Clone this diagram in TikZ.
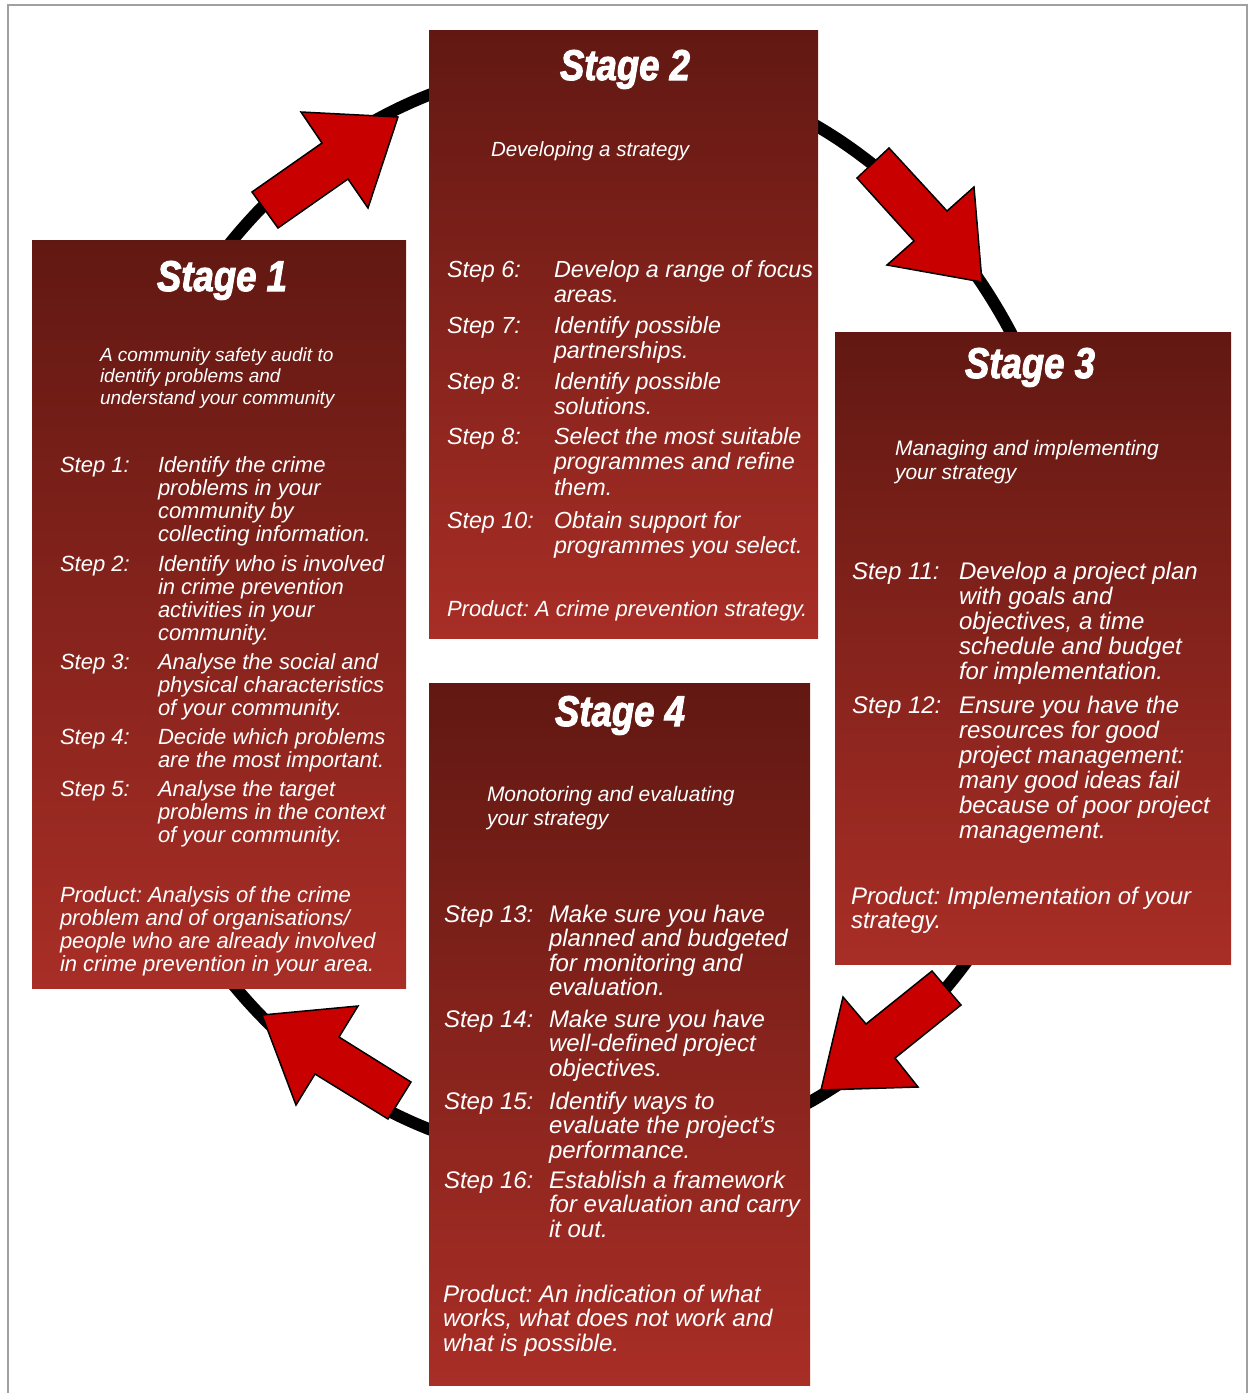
\documentclass[tikz,border=0pt]{standalone}
\usepackage{fontspec}
\setmainfont{Liberation Sans}
\newfontfamily\titlefont{Liberation Sans Bold Italic}[FakeBold=2.5]
\definecolor{boxtop}{RGB}{98,24,18}
\definecolor{boxbot}{RGB}{168,46,38}
\definecolor{arrowred}{RGB}{200,0,0}
\definecolor{framegray}{RGB}{160,160,160}
\newcommand\mystrut{\rule{0pt}{0.8em}}
\frenchspacing
\tikzset{
  stagebox/.style={top color=boxtop, bottom color=boxbot, draw=none},
  ring/.style={draw=black, line width=12pt},
  blockarrow/.style={fill=arrowred, draw=black, line width=1.5pt, line join=miter},
  frameline/.style={draw=framegray, line width=2pt},
  ttl/.style={anchor=base, inner sep=0pt, text=white, font=\titlefont\fontsize{43}{43}\selectfont},
  txt/.style={anchor=north west, inner sep=0pt, outer sep=0pt, align=left, text=white},
  subA/.style={txt, font=\fontsize{19}{21.5}\selectfont\itshape, yshift=15.2pt},
  subB/.style={txt, font=\fontsize{20.5}{24}\selectfont\itshape, yshift=16.4pt},
  subC/.style={txt, font=\fontsize{21}{24}\selectfont\itshape, yshift=16.8pt},
  stA/.style={txt, font=\fontsize{22}{23}\selectfont\itshape, yshift=17.6pt},
  stB/.style={txt, font=\fontsize{23.3}{25.5}\selectfont\itshape, yshift=18.6pt},
  stC/.style={txt, font=\fontsize{24}{25}\selectfont\itshape, yshift=19.2pt},
  stD/.style={txt, font=\fontsize{24}{24.5}\selectfont\itshape, yshift=19.2pt},
  prA/.style={txt, font=\fontsize{22}{23.3}\selectfont\itshape, yshift=17.6pt},
  prC/.style={txt, font=\fontsize{24}{24.5}\selectfont\itshape, yshift=19.2pt},
}
\begin{document}
\begin{tikzpicture}[x=1pt,y=-1pt]
\useasboundingbox (0,0) rectangle (1253,1393);
\fill[white] (0,0) rectangle (1253,1393);
\path[frameline] (8,1395) -- (8,5) -- (1247,5) -- (1247,1395);

% ring
\path[ring] (591,612) ellipse [x radius=488, y radius=548];

% stage boxes
\path[stagebox] (32,240) rectangle (406,988);
\path[stagebox] (429,30) rectangle (818,638);
\path[stagebox] (835,332) rectangle (1231,964);
\path[stagebox] (429,683) rectangle (810,1385);

% block arrows
\path[blockarrow] (398,117) -- (301,112) -- (322,143) -- (252,192) -- (278,228) -- (348,179) -- (368,208) -- cycle;
\path[blockarrow] (982,282) -- (974,187) -- (947,211) -- (889,148) -- (857,178) -- (914,241) -- (887,265) -- cycle;
\path[blockarrow] (821,1090) -- (843,997) -- (866,1024) -- (932,971) -- (961,1005) -- (895,1058) -- (918,1087) -- cycle;
\path[blockarrow] (262,1015) -- (358,1006) -- (339,1037) -- (411,1082) -- (388,1119) -- (315,1074) -- (296,1105) -- cycle;

% titles
\node[ttl] (t1) at (222,291) {\scalebox{0.85}[1]{Stage 1}};
\node[ttl] (t2) at (625,80) {\scalebox{0.85}[1]{Stage 2}};
\node[ttl] (t3) at (1030,378) {\scalebox{0.85}[1]{Stage 3}};
\node[ttl] (t4) at (620,726) {\scalebox{0.85}[1]{Stage 4}};

% subtitles
\node[subA] (sub1) at (100,361) {\mystrut A community safety audit to\\identify problems and\\understand your community};
\node[subB] (sub2) at (491,156) {\mystrut Developing a strategy};
\node[subC] (sub3) at (895,455) {\mystrut Managing and implementing\\your strategy};
\node[subC] (sub4) at (487,801) {\mystrut Monotoring and evaluating\\your strategy};

% stage 1 steps
\node[stA] (l1) at (60,472) {\mystrut Step 1:};
\node[stA] (d1) at (158,472) {\mystrut Identify the crime\\problems in your\\community by\\collecting information.};
\node[stA] (l2) at (60,571) {\mystrut Step 2:};
\node[stA] (d2) at (158,571) {\mystrut Identify who is involved\\in crime prevention\\activities in your\\community.};
\node[stA] (l3) at (60,669) {\mystrut Step 3:};
\node[stA] (d3) at (158,669) {\mystrut Analyse the social and\\physical characteristics\\of your community.};
\node[stA] (l4) at (60,744) {\mystrut Step 4:};
\node[stA] (d4) at (158,744) {\mystrut Decide which problems\\are the most important.};
\node[stA] (l5) at (60,796) {\mystrut Step 5:};
\node[stA] (d5) at (158,796) {\mystrut Analyse the target\\problems in the context\\of your community.};
\node[prA] (p1) at (60,902) {\mystrut Product: Analysis of the crime\\problem and of organisations/\\people who are already involved\\in crime prevention in your area.};

% stage 2 steps
\node[stB] (l6) at (447,277) {\mystrut Step 6:};
\node[stB] (d6) at (554,277) {\mystrut Develop a range of focus\\areas.};
\node[stB] (l7) at (447,333) {\mystrut Step 7:};
\node[stB] (d7) at (554,333) {\mystrut Identify possible\\partnerships.};
\node[stB] (l8) at (447,389) {\mystrut Step 8:};
\node[stB] (d8) at (554,389) {\mystrut Identify possible\\solutions.};
\node[stB] (l9) at (447,444) {\mystrut Step 8:};
\node[stB] (d9) at (554,444) {\mystrut Select the most suitable\\programmes and refine\\them.};
\node[stB] (l10) at (447,528) {\mystrut Step 10:};
\node[stB] (d10) at (554,528) {\mystrut Obtain support for\\programmes you select.};
\node[prA] (p2) at (447,616) {\mystrut Product: A crime prevention strategy.};

% stage 3 steps
\node[stC] (l11) at (852,579) {\mystrut Step 11:};
\node[stC] (d11) at (959,579) {\mystrut Develop a project plan\\with goals and\\objectives, a time\\schedule and budget\\for implementation.};
\node[stC] (l12) at (852,713) {\mystrut Step 12:};
\node[stC] (d12) at (959,713) {\mystrut Ensure you have the\\resources for good\\project management:\\many good ideas fail\\because of poor project\\management.};
\node[prC] (p3) at (851,904) {\mystrut Product: Implementation of your\\strategy.};

% stage 4 steps
\node[stD] (l13) at (444,922) {\mystrut Step 13:};
\node[stD] (d13) at (549,922) {\mystrut Make sure you have\\planned and budgeted\\for monitoring and\\evaluation.};
\node[stD] (l14) at (444,1027) {\mystrut Step 14:};
\node[stD] (d14) at (549,1027) {\mystrut Make sure you have\\well-defined project\\objectives.};
\node[stD] (l15) at (444,1109) {\mystrut Step 15:};
\node[stD] (d15) at (549,1109) {\mystrut Identify ways to\\evaluate the project’s\\performance.};
\node[stD] (l16) at (444,1188) {\mystrut Step 16:};
\node[stD] (d16) at (549,1188) {\mystrut Establish a framework\\for evaluation and carry\\it out.};
\node[prC] (p4) at (443,1302) {\mystrut Product: An indication of what\\works, what does not work and\\what is possible.};
\end{tikzpicture}
\end{document}
